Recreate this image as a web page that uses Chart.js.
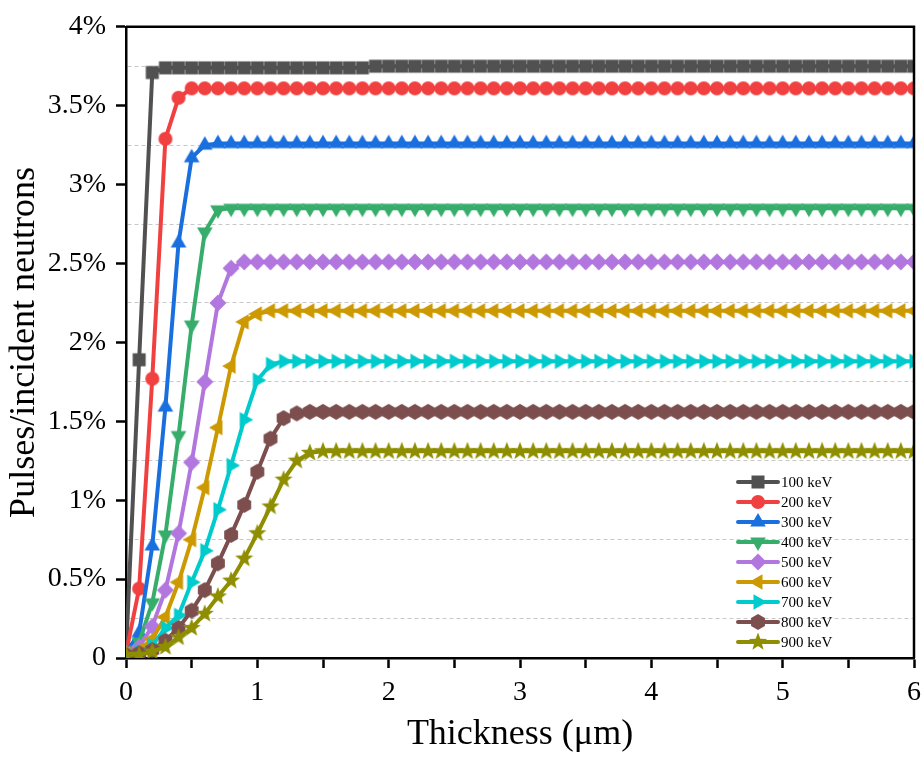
<!DOCTYPE html>
<html lang="en">
<head>
<meta charset="UTF-8">
<title>Pulses vs thickness</title>
<script src="https://cdn.jsdelivr.net/npm/chart.js@4/dist/chart.umd.min.js"></script>
<style>
  body { margin: 0; background: #fff; }
  #wrap { width: 922px; height: 762px; }
</style>
</head>
<body>
<div id="wrap"><canvas id="myChart" width="922" height="762"></canvas></div>
<script>
// thickness (um)
const thickness = [
  0, 0.1, 0.2, 0.3, 0.4, 0.5, 0.6, 0.7, 0.8, 0.9,
  1, 1.1, 1.2, 1.3, 1.4, 1.5, 1.6, 1.7, 1.8, 1.9,
  2, 2.1, 2.2, 2.3, 2.4, 2.5, 2.6, 2.7, 2.8, 2.9,
  3, 3.1, 3.2, 3.3, 3.4, 3.5, 3.6, 3.7, 3.8, 3.9,
  4, 4.1, 4.2, 4.3, 4.4, 4.5, 4.6, 4.7, 4.8, 4.9,
  5, 5.1, 5.2, 5.3, 5.4, 5.5, 5.6, 5.7, 5.8, 5.9,
  6
];

// pulses / incident neutrons (%)
const s100 = [
  0.03, 1.89, 3.71, 3.74, 3.74, 3.74, 3.74, 3.74, 3.74, 3.74,
  3.74, 3.74, 3.74, 3.74, 3.74, 3.74, 3.74, 3.74, 3.74, 3.75,
  3.75, 3.75, 3.75, 3.75, 3.75, 3.75, 3.75, 3.75, 3.75, 3.75,
  3.75, 3.75, 3.75, 3.75, 3.75, 3.75, 3.75, 3.75, 3.75, 3.75,
  3.75, 3.75, 3.75, 3.75, 3.75, 3.75, 3.75, 3.75, 3.75, 3.75,
  3.75, 3.75, 3.75, 3.75, 3.75, 3.75, 3.75, 3.75, 3.75, 3.75,
  3.75
];
const s200 = [
  0.03, 0.44, 1.77, 3.29, 3.55, 3.61, 3.61, 3.61, 3.61, 3.61,
  3.61, 3.61, 3.61, 3.61, 3.61, 3.61, 3.61, 3.61, 3.61, 3.61,
  3.61, 3.61, 3.61, 3.61, 3.61, 3.61, 3.61, 3.61, 3.61, 3.61,
  3.61, 3.61, 3.61, 3.61, 3.61, 3.61, 3.61, 3.61, 3.61, 3.61,
  3.61, 3.61, 3.61, 3.61, 3.61, 3.61, 3.61, 3.61, 3.61, 3.61,
  3.61, 3.61, 3.61, 3.61, 3.61, 3.61, 3.61, 3.61, 3.61, 3.61,
  3.61
];
const s300 = [
  0.03, 0.16, 0.71, 1.59, 2.63, 3.17, 3.25, 3.26, 3.26, 3.26,
  3.26, 3.26, 3.26, 3.26, 3.26, 3.26, 3.26, 3.26, 3.26, 3.26,
  3.26, 3.26, 3.26, 3.26, 3.26, 3.26, 3.26, 3.26, 3.26, 3.26,
  3.26, 3.26, 3.26, 3.26, 3.26, 3.26, 3.26, 3.26, 3.26, 3.26,
  3.26, 3.26, 3.26, 3.26, 3.26, 3.26, 3.26, 3.26, 3.26, 3.26,
  3.26, 3.26, 3.26, 3.26, 3.26, 3.26, 3.26, 3.26, 3.26, 3.26,
  3.26
];
const s400 = [
  0.03, 0.10, 0.35, 0.78, 1.41, 2.11, 2.70, 2.84, 2.85, 2.85,
  2.85, 2.85, 2.85, 2.85, 2.85, 2.85, 2.85, 2.85, 2.85, 2.85,
  2.85, 2.85, 2.85, 2.85, 2.85, 2.85, 2.85, 2.85, 2.85, 2.85,
  2.85, 2.85, 2.85, 2.85, 2.85, 2.85, 2.85, 2.85, 2.85, 2.85,
  2.85, 2.85, 2.85, 2.85, 2.85, 2.85, 2.85, 2.85, 2.85, 2.85,
  2.85, 2.85, 2.85, 2.85, 2.85, 2.85, 2.85, 2.85, 2.85, 2.85,
  2.85
];
const s500 = [
  0.03, 0.07, 0.20, 0.43, 0.79, 1.24, 1.75, 2.25, 2.47, 2.51,
  2.51, 2.51, 2.51, 2.51, 2.51, 2.51, 2.51, 2.51, 2.51, 2.51,
  2.51, 2.51, 2.51, 2.51, 2.51, 2.51, 2.51, 2.51, 2.51, 2.51,
  2.51, 2.51, 2.51, 2.51, 2.51, 2.51, 2.51, 2.51, 2.51, 2.51,
  2.51, 2.51, 2.51, 2.51, 2.51, 2.51, 2.51, 2.51, 2.51, 2.51,
  2.51, 2.51, 2.51, 2.51, 2.51, 2.51, 2.51, 2.51, 2.51, 2.51,
  2.51
];
const s600 = [
  0.03, 0.05, 0.12, 0.26, 0.48, 0.75, 1.08, 1.46, 1.85, 2.13,
  2.18, 2.20, 2.20, 2.20, 2.20, 2.20, 2.20, 2.20, 2.20, 2.20,
  2.20, 2.20, 2.20, 2.20, 2.20, 2.20, 2.20, 2.20, 2.20, 2.20,
  2.20, 2.20, 2.20, 2.20, 2.20, 2.20, 2.20, 2.20, 2.20, 2.20,
  2.20, 2.20, 2.20, 2.20, 2.20, 2.20, 2.20, 2.20, 2.20, 2.20,
  2.20, 2.20, 2.20, 2.20, 2.20, 2.20, 2.20, 2.20, 2.20, 2.20,
  2.20
];
const s700 = [
  0.02, 0.04, 0.08, 0.19, 0.27, 0.48, 0.68, 0.94, 1.22, 1.51,
  1.76, 1.86, 1.88, 1.88, 1.88, 1.88, 1.88, 1.88, 1.88, 1.88,
  1.88, 1.88, 1.88, 1.88, 1.88, 1.88, 1.88, 1.88, 1.88, 1.88,
  1.88, 1.88, 1.88, 1.88, 1.88, 1.88, 1.88, 1.88, 1.88, 1.88,
  1.88, 1.88, 1.88, 1.88, 1.88, 1.88, 1.88, 1.88, 1.88, 1.88,
  1.88, 1.88, 1.88, 1.88, 1.88, 1.88, 1.88, 1.88, 1.88, 1.88,
  1.88
];
const s800 = [
  0.02, 0.03, 0.05, 0.11, 0.19, 0.30, 0.43, 0.60, 0.78, 0.97,
  1.18, 1.39, 1.52, 1.55, 1.56, 1.56, 1.56, 1.56, 1.56, 1.56,
  1.56, 1.56, 1.56, 1.56, 1.56, 1.56, 1.56, 1.56, 1.56, 1.56,
  1.56, 1.56, 1.56, 1.56, 1.56, 1.56, 1.56, 1.56, 1.56, 1.56,
  1.56, 1.56, 1.56, 1.56, 1.56, 1.56, 1.56, 1.56, 1.56, 1.56,
  1.56, 1.56, 1.56, 1.56, 1.56, 1.56, 1.56, 1.56, 1.56, 1.56,
  1.56
];
const s900 = [
  0.02, 0.02, 0.04, 0.07, 0.13, 0.19, 0.28, 0.39, 0.49, 0.63,
  0.79, 0.96, 1.13, 1.25, 1.30, 1.31, 1.31, 1.31, 1.31, 1.31,
  1.31, 1.31, 1.31, 1.31, 1.31, 1.31, 1.31, 1.31, 1.31, 1.31,
  1.31, 1.31, 1.31, 1.31, 1.31, 1.31, 1.31, 1.31, 1.31, 1.31,
  1.31, 1.31, 1.31, 1.31, 1.31, 1.31, 1.31, 1.31, 1.31, 1.31,
  1.31, 1.31, 1.31, 1.31, 1.31, 1.31, 1.31, 1.31, 1.31, 1.31,
  1.31
];

const seriesNames = ['100 keV', '200 keV', '300 keV', '400 keV', '500 keV',
                     '600 keV', '700 keV', '800 keV', '900 keV'];
const seriesColors = ['#515151', '#F14040', '#1A6FDF', '#37AD6B', '#B177DE',
                      '#CC9900', '#00CBCC', '#7D4E4E', '#8E8E00'];
const seriesMarkers = ['square', 'circle', 'up', 'down', 'diamond',
                       'left', 'right', 'hexagon', 'star'];

const FONT = '"Liberation Serif", "Times New Roman", serif';

// marker images (shared by the plot and the legend)
function poly(g, n, r, startDeg) {
  for (let k = 0; k < n; k++) {
    const a = (startDeg + k * 360 / n) * Math.PI / 180;
    const px = r * Math.cos(a), py = r * Math.sin(a);
    if (k === 0) g.moveTo(px, py); else g.lineTo(px, py);
  }
  g.closePath();
}
function makeMarker(shape, color) {
  const c = document.createElement('canvas');
  c.width = 22; c.height = 22;
  const g = c.getContext('2d');
  g.translate(11, 11);
  g.fillStyle = color;
  g.beginPath();
  if (shape === 'square') g.rect(-6.5, -6.5, 13, 13);
  else if (shape === 'circle') g.arc(0, 0, 7, 0, Math.PI * 2);
  else if (shape === 'up') poly(g, 3, 9, -90);
  else if (shape === 'down') poly(g, 3, 9, 90);
  else if (shape === 'left') poly(g, 3, 9, 180);
  else if (shape === 'right') poly(g, 3, 9, 0);
  else if (shape === 'diamond') poly(g, 4, 8.5, -90);
  else if (shape === 'hexagon') poly(g, 6, 8, -90);
  else if (shape === 'star') {
    for (let k = 0; k < 10; k++) {
      const r = k % 2 === 0 ? 9.5 : 4;
      const a = (-90 + k * 36) * Math.PI / 180;
      if (k === 0) g.moveTo(r * Math.cos(a), r * Math.sin(a));
      else g.lineTo(r * Math.cos(a), r * Math.sin(a));
    }
    g.closePath();
  }
  g.fill();
  return c;
}

const allSeries = [s100, s200, s300, s400, s500, s600, s700, s800, s900];
const datasets = allSeries.map((vals, i) => ({
  label: seriesNames[i],
  data: vals.map((v, j) => ({ x: thickness[j], y: v })),
  borderColor: seriesColors[i],
  backgroundColor: seriesColors[i],
  borderWidth: 4,
  pointStyle: makeMarker(seriesMarkers[i], seriesColors[i]),
  pointRadius: 7,
  tension: 0,
  order: allSeries.length - i   // later series drawn on top
}));

// grid only between major ticks
const isMid = (v, step) => Math.round(v / step * 2) % 2 === 1;

const framePlugin = {
  id: 'frame',
  afterDraw(chart) {
    const { ctx, chartArea: a } = chart;
    ctx.save();
    ctx.strokeStyle = '#000';
    ctx.lineWidth = 2.5;
    ctx.beginPath();
    ctx.moveTo(a.left, a.top);
    ctx.lineTo(a.right, a.top);
    ctx.lineTo(a.right, a.bottom);
    ctx.stroke();
    ctx.restore();
  }
};

const legendPlugin = {
  id: 'lineLegend',
  afterDraw(chart) {
    const { ctx, chartArea: a } = chart;
    const x0 = a.right - 176, y0 = a.bottom - 176;
    ctx.save();
    chart.data.datasets.forEach((ds, i) => {
      const y = y0 + i * 20;
      ctx.strokeStyle = ds.borderColor;
      ctx.lineWidth = 4;
      ctx.lineCap = 'round';
      ctx.beginPath();
      ctx.moveTo(x0, y);
      ctx.lineTo(x0 + 40, y);
      ctx.stroke();
      ctx.drawImage(ds.pointStyle, x0 + 20 - 11, y - 11);
      ctx.fillStyle = '#000';
      ctx.font = '15px ' + FONT;
      ctx.textBaseline = 'middle';
      ctx.textAlign = 'left';
      ctx.fillText(ds.label, x0 + 43, y + 1);
    });
    ctx.restore();
  }
};

new Chart(document.getElementById('myChart'), {
  type: 'line',
  data: { datasets },
  options: {
    responsive: false,
    animation: false,
    layout: { autoPadding: false, padding: { top: 26, right: 8, left: 0, bottom: 0 } },
    plugins: { legend: { display: false }, tooltip: { enabled: false } },
    scales: {
      x: {
        type: 'linear', min: 0, max: 6,
        afterFit: s => { s.height = 104; s.paddingLeft = 0; s.paddingRight = 0; },
        ticks: {
          stepSize: 0.5, autoSkip: false, maxRotation: 0, padding: 8,
          color: '#000', font: { family: FONT, size: 28 },
          callback: v => Number.isInteger(v) ? String(v) : ''
        },
        grid: {
          color: c => (c.tick && isMid(c.tick.value, 0.5)) ? '#c8c8c8' : 'rgba(0,0,0,0)',
          lineWidth: 1,
          borderDash: [4, 3],
          tickLength: 10, tickWidth: 2.5, tickBorderDash: [],
          tickColor: c => (c.tick && !isMid(c.tick.value, 0.5)) ? '#000' : 'rgba(0,0,0,0)'
        },
        border: { color: '#000', width: 2.5, dash: [4, 3] },
        title: {
          display: true, text: 'Thickness (μm)', color: '#000',
          font: { family: FONT, size: 36 }, padding: { top: 0, bottom: 6 }
        }
      },
      y: {
        min: 0, max: 4,
        afterFit: s => { s.width = 126; },
        ticks: {
          stepSize: 0.25, autoSkip: false, padding: 10,
          color: '#000', font: { family: FONT, size: 28 },
          callback: v => isMid(v, 0.5) ? '' : (v === 0 ? '0' : v + '%')
        },
        grid: {
          color: c => (c.tick && isMid(c.tick.value, 0.5)) ? '#c8c8c8' : 'rgba(0,0,0,0)',
          lineWidth: 1,
          borderDash: [4, 3],
          tickLength: 10, tickWidth: 2.5, tickBorderDash: [],
          tickColor: c => (c.tick && !isMid(c.tick.value, 0.5)) ? '#000' : 'rgba(0,0,0,0)'
        },
        border: { color: '#000', width: 2.5, dash: [4, 3] },
        title: {
          display: true, text: 'Pulses/incident neutrons', color: '#000',
          font: { family: FONT, size: 36 }, padding: { top: 3, bottom: 0 }
        }
      }
    }
  },
  plugins: [framePlugin, legendPlugin]
});
</script>
</body>
</html>
